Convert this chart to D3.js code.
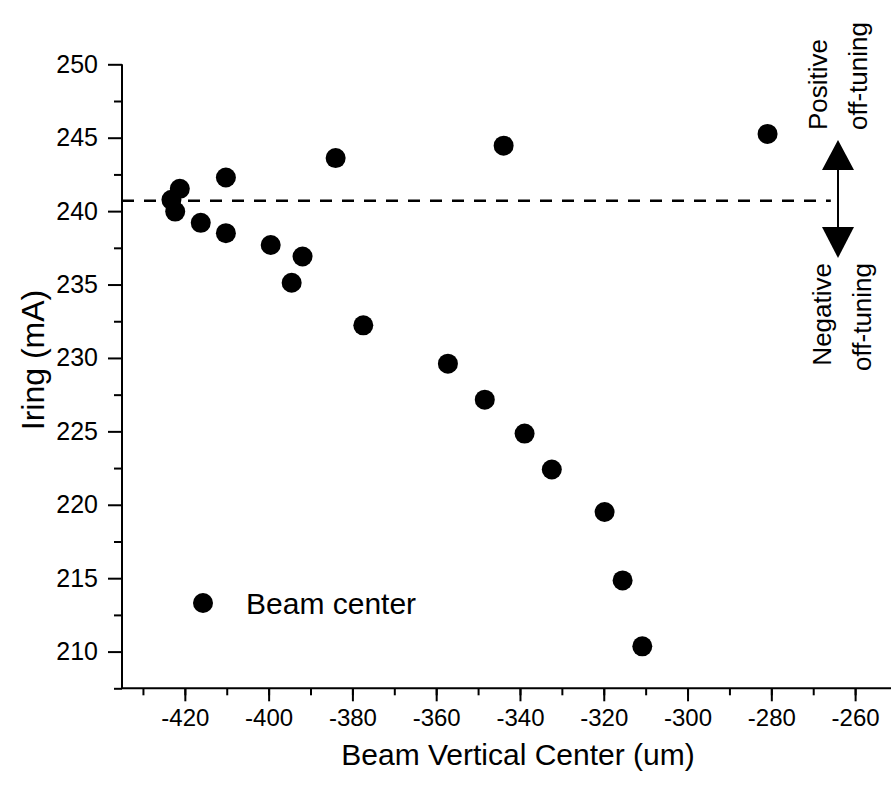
<!DOCTYPE html>
<html><head><meta charset="utf-8">
<script src="https://cdn.jsdelivr.net/npm/d3@7"></script>
<style>body{margin:0;background:#fff}svg{display:block}text{font-family:"Liberation Sans",Arial,sans-serif;fill:#000}</style>
</head><body>
<script>
const xVals = [-423.2,-422.3,-421.2,-416.2,-410.2,-410.2,-399.5,-391.9,-394.5,-384.0,-377.4,-357.2,-348.4,-338.9,-332.4,-319.8,-315.5,-310.8,-343.9,-280.9];
const yVals = [240.77,239.97,241.52,239.20,242.29,238.50,237.69,236.91,235.12,243.61,232.22,229.61,227.16,224.85,222.40,219.51,214.85,210.36,244.46,245.26];
const xTicks = [-420,-400,-380,-360,-340,-320,-300,-280,-260];
const yTicks = [210,215,220,225,230,235,240,245,250];
const refLine = 240.7;
const seriesName = "Beam center";
const xTitle = "Beam Vertical Center (um)";
const yTitle = "Iring (mA)";
const annUp = ["Positive","off-tuning"];
const annDown = ["Negative","off-tuning"];

const W=891,H=785;
const svg=d3.select("body").append("svg").attr("width",W).attr("height",H);
const x=d3.scaleLinear().domain([-435,-250]).range([122,897]);
const y=d3.scaleLinear().domain([207.5,250]).range([688.3,64.3]);
const fmt=d=>String(d);

// axes
const gx=svg.append("g").attr("transform",`translate(0,${y(207.5)})`);
gx.call(d3.axisBottom(x).tickValues(d3.range(-430,-250,10)).tickSize(7).tickFormat(""));
gx.selectAll(".tick line").attr("stroke-width",2);
gx.select(".domain").attr("stroke-width",2).attr("d",`M${x(-435)},0H${W}`);
const gx2=svg.append("g").attr("transform",`translate(0,${y(207.5)})`);
gx2.call(d3.axisBottom(x).tickValues(xTicks).tickSize(13).tickPadding(8).tickFormat(fmt));
gx2.select(".domain").remove();
gx2.selectAll(".tick line").attr("stroke-width",2);
gx2.selectAll("text").style("font-size","24px").attr("font-family",null);

const gy=svg.append("g").attr("transform",`translate(${x(-435)},0)`);
gy.call(d3.axisLeft(y).tickValues(d3.range(207.5,250.1,2.5).filter(v=>v%5!==0)).tickSize(8).tickFormat(""));
gy.selectAll(".tick line").attr("stroke-width",2);
gy.select(".domain").attr("stroke-width",2).attr("d",`M0,${y(250)}V${y(207.5)}`);
const gy2=svg.append("g").attr("transform",`translate(${x(-435)},0)`);
gy2.call(d3.axisLeft(y).tickValues(yTicks).tickSize(14).tickPadding(10).tickFormat(fmt));
gy2.select(".domain").remove();
gy2.selectAll(".tick line").attr("stroke-width",2);
gy2.selectAll("text").style("font-size","25px").attr("font-family",null);

// titles
svg.append("text").attr("x",518).attr("y",765).attr("text-anchor","middle").style("font-size","30px").text(xTitle);
svg.append("text").attr("transform",`translate(44,360) rotate(-90)`).attr("text-anchor","middle").style("font-size","32px").text(yTitle);

// reference line
svg.append("line").attr("x1",x(-435)).attr("x2",x(-265.8)).attr("y1",y(refLine)).attr("y2",y(refLine))
  .attr("stroke","#000").attr("stroke-width",2.5).attr("stroke-dasharray","12,10");

// points
svg.append("g").selectAll("circle").data(xVals.map((v,i)=>[v,yVals[i]])).join("circle")
  .attr("cx",d=>x(d[0])).attr("cy",d=>y(d[1])).attr("r",10).attr("fill","#000");

// legend
svg.append("circle").attr("cx",203).attr("cy",603).attr("r",10).attr("fill","#000");
svg.append("text").attr("x",246).attr("y",614).style("font-size","30px").text(seriesName);

// arrow
const ax=838;
svg.append("line").attr("x1",ax).attr("x2",ax).attr("y1",168).attr("y2",228).attr("stroke","#000").attr("stroke-width",2);
svg.append("path").attr("d",`M${ax},140L${ax+16},170L${ax-16},170Z`).attr("fill","#000");
svg.append("path").attr("d",`M${ax},258L${ax+16},227L${ax-16},227Z`).attr("fill","#000");
svg.append("text").attr("transform",`translate(827,130) rotate(-90)`).style("font-size","26px").text(annUp[0]);
svg.append("text").attr("transform",`translate(867,130) rotate(-90)`).style("font-size","26px").text(annUp[1]);
svg.append("text").attr("transform",`translate(831,263) rotate(-90)`).attr("text-anchor","end").style("font-size","26px").text(annDown[0]);
svg.append("text").attr("transform",`translate(871,263) rotate(-90)`).attr("text-anchor","end").style("font-size","26px").text(annDown[1]);
</script>
</body></html>
